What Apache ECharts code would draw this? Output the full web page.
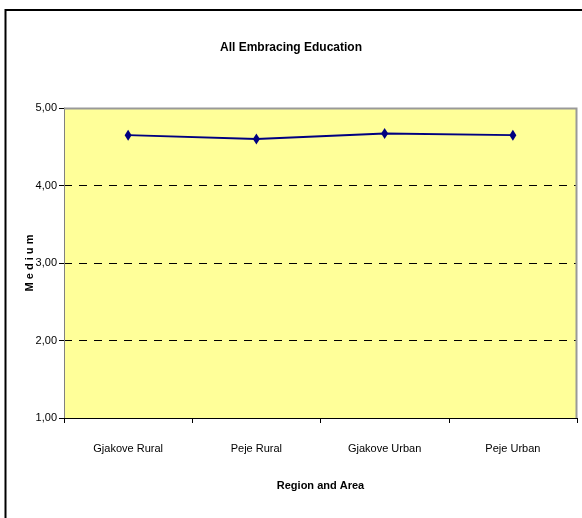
<!DOCTYPE html>
<html>
<head>
<meta charset="utf-8">
<script src="https://cdn.jsdelivr.net/npm/echarts@6/dist/echarts.min.js"></script>
<style>
  html, body { margin: 0; padding: 0; background: #ffffff; }
  #chart { width: 582px; height: 518px; }
</style>
</head>
<body>
<div id="chart"></div>
<script>
// Mean score per region / area
const categories = ['Gjakove Rural', 'Peje Rural', 'Gjakove Urban', 'Peje Urban'];
const mediumValues = [4.65, 4.60, 4.67, 4.65];
const yTicks = [1, 2, 3, 4, 5];

const FONT = '"Liberation Sans Narrow", "Arial Narrow", "Liberation Sans", Arial, sans-serif';

const chart = echarts.init(document.getElementById('chart'), null, { renderer: 'canvas' });

chart.setOption({
  backgroundColor: '#ffffff',
  animation: false,
  title: {
    text: 'All Embracing Education',
    left: 'center',
    top: 37,
    textStyle: { fontFamily: FONT, fontSize: 12, fontWeight: 'bold', color: '#000' }
  },
  graphic: [
    {
      // outer frame (top and left edges)
      type: 'polyline',
      shape: { points: [[5.5, 530], [5.5, 10], [600, 10]] },
      style: { fill: null, stroke: '#000', lineWidth: 2 },
      z: 100
    },
    {
      // top and right edges of the plot frame
      type: 'polyline',
      shape: { points: [[64, 108.5], [576.5, 108.5], [576.5, 418]] },
      style: { fill: null, stroke: '#999999', lineWidth: 2 },
      z: 50
    }
  ],
  grid: {
    left: 64, right: 5, top: 108, bottom: 100,
    show: true,
    backgroundColor: '#FFFF99',
    borderWidth: 0
  },
  xAxis: {
    type: 'category',
    data: categories,
    boundaryGap: true,
    name: 'Region and Area',
    nameLocation: 'middle',
    nameGap: 62,
    nameMoveOverlap: false,
    nameTextStyle: { fontFamily: FONT, fontSize: 11, fontWeight: 'bold', color: '#000' },
    axisLine: { lineStyle: { color: '#000', width: 1 } },
    axisTick: { show: true, length: 5, lineStyle: { color: '#000' } },
    axisLabel: { fontFamily: FONT, fontSize: 11, color: '#000', margin: 25 },
    splitLine: { show: false }
  },
  yAxis: {
    type: 'value',
    min: yTicks[0],
    max: yTicks[yTicks.length - 1],
    interval: 1,
    name: 'M e d i u m',
    nameLocation: 'middle',
    nameRotate: 90,
    nameGap: 29,
    nameMoveOverlap: false,
    nameTextStyle: { fontFamily: FONT, fontSize: 11, fontWeight: 'bold', color: '#000' },
    axisLine: { show: true, lineStyle: { color: '#808080', width: 1 } },
    axisTick: { show: true, length: 5, lineStyle: { color: '#000' } },
    axisLabel: {
      fontFamily: FONT, fontSize: 11, color: '#000', margin: 7,
      formatter: v => v.toFixed(2).replace('.', ',')
    },
    splitLine: {
      show: true,
      lineStyle: { color: '#000', type: [8, 7], width: 1 }
    }
  },
  series: [{
    type: 'line',
    data: mediumValues,
    symbol: 'diamond',
    symbolSize: [7, 11],
    lineStyle: { color: '#000080', width: 2 },
    itemStyle: { color: '#000080' }
  }]
});
</script>
</body>
</html>
